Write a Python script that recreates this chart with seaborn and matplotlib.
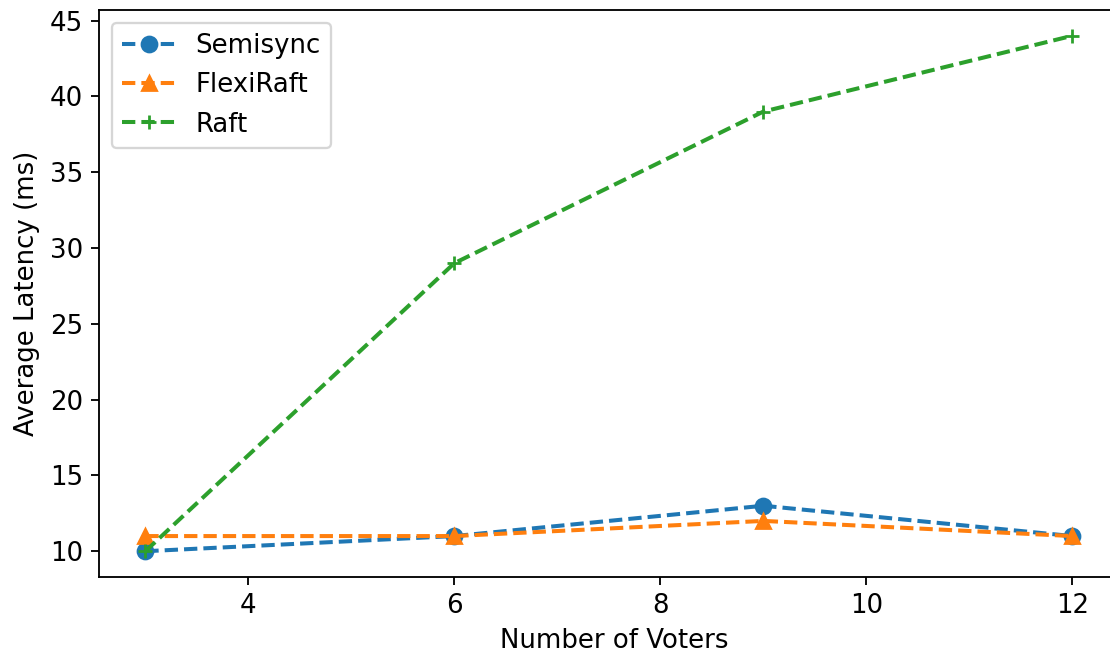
import pandas as pd
import seaborn as sns
import matplotlib.pyplot as plt

# values
voters = [3, 6, 9, 12]
semisync = [10, 11, 13, 11]
flexiraft = [11, 11, 12, 11]
raft = [10, 29, 39, 44]

series = [("Semisync", semisync, "o", "#1f77b4"),
          ("FlexiRaft", flexiraft, "^", "#ff7f0e"),
          ("Raft", raft, "+", "#2ca02c")]

plt.rcParams["font.size"] = 11.3
fig = plt.figure(figsize=(1110 / 166, 655 / 166), dpi=166)
ax = fig.add_axes([99 / 1110, 1 - 577 / 655, 1030 / 1110, 567 / 655])

for name, vals, mk, col in series:
    df = pd.DataFrame({"Number of Voters": voters, "Average Latency (ms)": vals})
    sns.lineplot(data=df, x="Number of Voters", y="Average Latency (ms)", ax=ax,
                 marker=mk, color=col, linestyle=(0, (3.3, 1.5)), label=name,
                 markeredgecolor=col, markersize=6.5, linewidth=1.75,
                 markeredgewidth=1.2)

ax.set_xlim(2.55, 12.55)
ax.legend(loc="upper left")
fig.savefig("out.png", dpi=166)
